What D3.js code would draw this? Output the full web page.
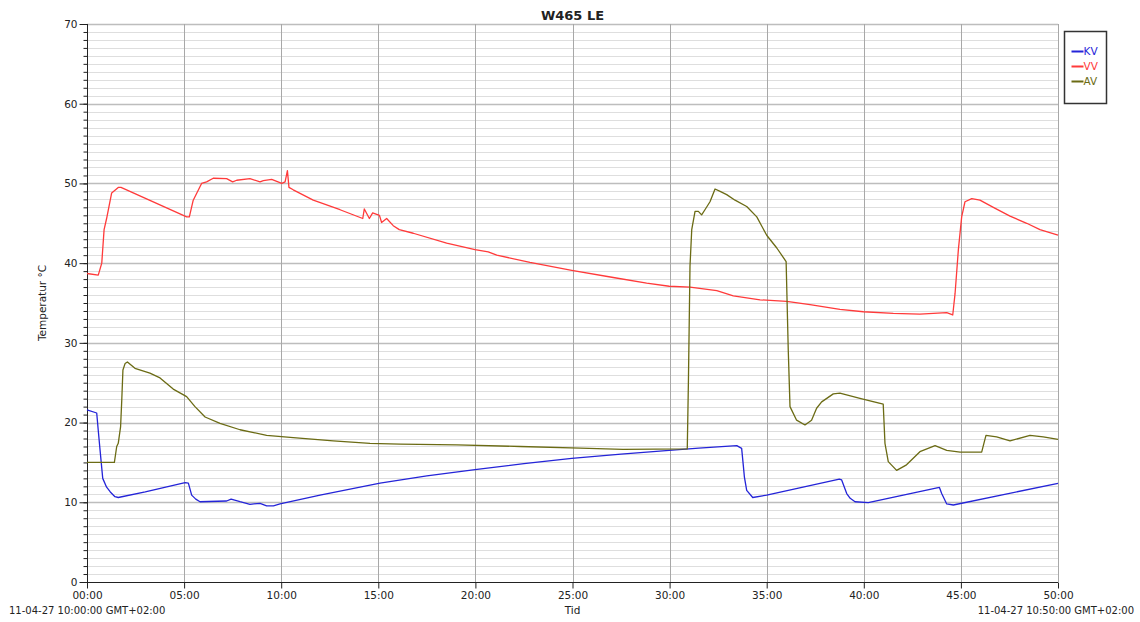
<!DOCTYPE html>
<html>
<head>
<meta charset="utf-8">
<script src="https://cdn.jsdelivr.net/npm/d3@7"></script>
<style>
  body { margin: 0; background: #fff; }
  svg { font-family: "DejaVu Sans", sans-serif; }
</style>
</head>
<body>
<svg id="chart" width="1140" height="622"></svg>
<script>
// time in minutes after 10:00:00, temperature in °C

const kvTime = [0, 0.5, 0.58, 0.67, 0.81, 1.01, 1.2, 1.44, 1.61, 3, 5.05, 5.22, 5.39, 5.6, 5.82, 7.19, 7.42, 7.88, 8.39, 8.91, 9.25, 9.6, 9.94, 12, 15.09, 17.5, 19.98, 22.5, 24.96, 27.5, 29.98, 31.5, 33.46, 33.71, 33.8, 33.85, 33.97, 34.28, 35.0, 38.74, 38.86, 39.12, 39.3, 39.55, 40.23, 43.89, 44.01, 44.27, 44.61, 50];
const kvTemp = [21.6, 21.2, 19, 16.6, 13.0, 11.9, 11.3, 10.7, 10.6, 11.3, 12.46, 12.4, 10.9, 10.4, 10.07, 10.16, 10.4, 10.07, 9.75, 9.87, 9.54, 9.54, 9.79, 10.9, 12.4, 13.3, 14.1, 14.85, 15.5, 16.05, 16.5, 16.8, 17.1, 16.77, 14.5, 13.2, 11.5, 10.6, 10.9, 12.9, 12.8, 11.1, 10.5, 10.07, 9.95, 11.88, 11.1, 9.79, 9.66, 12.38];

const vvTime = [0, 0.58, 0.76, 0.88, 1.01, 1.27, 1.61, 1.75, 5.13, 5.27, 5.47, 5.9, 6.16, 6.5, 7.19, 7.5, 7.71, 8.39, 8.91, 9.08, 9.51, 10.03, 10.2, 10.32, 10.4, 10.62, 11.65, 13.03, 14.2, 14.28, 14.54, 14.71, 15.06, 15.17, 15.43, 15.77, 16.08, 16.8, 18.52, 19.98, 20.66, 21.1, 22.81, 24.96, 27.1, 28.82, 29.98, 31.05, 32.43, 33.28, 34.66, 36.03, 37.23, 38.77, 39.98, 41.52, 42.89, 44.27, 44.58, 44.7, 44.87, 45.04, 45.21, 45.56, 45.98, 46.67, 47.53, 48.39, 49.07, 50];
const vvTemp = [38.7, 38.5, 40.0, 44.2, 45.6, 48.8, 49.5, 49.5, 45.8, 45.8, 47.9, 50.0, 50.2, 50.65, 50.6, 50.2, 50.4, 50.6, 50.2, 50.35, 50.5, 50.0, 50.2, 51.6, 49.5, 49.2, 47.9, 46.7, 45.6, 46.8, 45.6, 46.3, 46.0, 45.1, 45.6, 44.7, 44.2, 43.75, 42.5, 41.7, 41.4, 41.0, 40.1, 39.1, 38.2, 37.5, 37.1, 37.0, 36.55, 35.9, 35.4, 35.2, 34.8, 34.2, 33.9, 33.7, 33.6, 33.8, 33.5, 36.2, 41.7, 45.8, 47.7, 48.1, 47.9, 47.0, 45.9, 45.0, 44.2, 43.5];

const avTime = [0, 1.41, 1.53, 1.61, 1.73, 1.79, 1.85, 1.96, 2.08, 2.47, 3.24, 3.76, 4.44, 5.13, 5.56, 6.08, 6.85, 7.88, 9.25, 10.62, 12.68, 14.57, 16.12, 19.04, 22.3, 25.4, 27.6, 30.91, 30.97, 31.05, 31.14, 31.31, 31.48, 31.65, 31.82, 32.08, 32.34, 32.6, 32.94, 33.37, 33.97, 34.49, 35.0, 35.52, 36.0, 36.11, 36.2, 36.54, 36.97, 37.31, 37.57, 37.83, 38.43, 38.77, 39.8, 41.0, 41.09, 41.26, 41.69, 42.2, 42.89, 43.67, 44.27, 44.96, 46.07, 46.29, 46.84, 47.53, 48.56, 49.24, 50];
const avTemp = [15.0, 15.0, 17.0, 17.4, 19.5, 22.8, 26.6, 27.4, 27.6, 26.8, 26.2, 25.6, 24.2, 23.25, 22.0, 20.7, 19.9, 19.1, 18.4, 18.1, 17.7, 17.4, 17.3, 17.2, 17.0, 16.8, 16.65, 16.7, 25.3, 39.6, 44.2, 46.5, 46.5, 46.05, 46.7, 47.7, 49.3, 49.0, 48.6, 47.9, 47.1, 45.8, 43.5, 41.9, 40.2, 29.1, 22.0, 20.3, 19.7, 20.3, 21.8, 22.6, 23.6, 23.7, 23.05, 22.3, 17.4, 15.1, 14.0, 14.7, 16.35, 17.1, 16.5, 16.3, 16.3, 18.4, 18.2, 17.7, 18.4, 18.2, 17.9];

const seriesNames = ['KV', 'VV', 'AV'];
const seriesColors = ['#2424d8', '#ff3a3a', '#6b6b14'];
const xTicks = [0, 5, 10, 15, 20, 25, 30, 35, 40, 45, 50];
const yTicks = [0, 10, 20, 30, 40, 50, 60, 70];

const title = 'W465 LE';
const yLabel = 'Temperatur °C';
const xLabel = 'Tid';
const startLabel = '11-04-27 10:00:00 GMT+02:00';
const endLabel = '11-04-27 10:50:00 GMT+02:00';

const svg = d3.select('#chart');
const plot = { left: 87, right: 1058, top: 24, bottom: 582 };

const x = d3.scaleLinear().domain([0, 50]).range([plot.left, plot.right]);
const y = d3.scaleLinear().domain([0, 70]).range([plot.bottom, plot.top]);

// grid

const grid = svg.append('g').attr('class', 'grid');

grid.selectAll('.minor')
  .data(d3.range(0, 71).filter(d => d % 10 !== 0))
  .join('line')
    .attr('x1', plot.left).attr('x2', plot.right)
    .attr('y1', d => Math.round(y(d)) + 0.5)
    .attr('y2', d => Math.round(y(d)) + 0.5)
    .attr('stroke', '#dedede');

grid.selectAll('.major')
  .data(yTicks.filter(d => d > 0))
  .join('line')
    .attr('x1', plot.left).attr('x2', plot.right)
    .attr('y1', d => Math.round(y(d)) + 0.5)
    .attr('y2', d => Math.round(y(d)) + 0.5)
    .attr('stroke', '#bdbdbd')
    .attr('stroke-width', 1.5);

grid.selectAll('.vert')
  .data(xTicks.filter(d => d > 0))
  .join('line')
    .attr('x1', d => Math.round(x(d)) + 0.5)
    .attr('x2', d => Math.round(x(d)) + 0.5)
    .attr('y1', plot.top).attr('y2', plot.bottom)
    .attr('stroke', '#a8a8a8');

// axes

const fmtMin = d => d3.format('02d')(d) + ':00';

svg.append('g')
    .attr('transform', `translate(${plot.left + 0.5},0)`)
    .call(d3.axisLeft(y).tickValues(d3.range(0, 71)).tickSize(4).tickFormat(''))
    .call(g => g.selectAll('.domain').remove())
    .call(g => g.selectAll('line').attr('stroke', '#222'));

svg.append('g')
    .attr('transform', `translate(${plot.left + 0.5},0)`)
    .call(d3.axisLeft(y).tickValues(yTicks).tickSize(8).tickPadding(2))
    .call(g => g.select('.domain').attr('stroke', '#222').attr('d', `M0,${plot.top}V${plot.bottom}`))
    .call(g => g.selectAll('line').attr('stroke', '#222'))
    .call(g => g.selectAll('text').attr('font-size', 10.5).attr('fill', '#222')
      .attr('font-family', '"DejaVu Sans", sans-serif'));

svg.append('g')
    .attr('transform', `translate(0,${plot.bottom + 0.5})`)
    .call(d3.axisBottom(x).tickValues(xTicks).tickSize(6).tickPadding(3).tickFormat(fmtMin))
    .call(g => g.select('.domain').attr('stroke', '#222').attr('d', `M${plot.left},0H${plot.right}`))
    .call(g => g.selectAll('line').attr('stroke', '#222'))
    .call(g => g.selectAll('text').attr('font-size', 10.5).attr('fill', '#222')
      .attr('font-family', '"DejaVu Sans", sans-serif'));

// lines

const series = [
  { time: kvTime, temp: kvTemp },
  { time: vvTime, temp: vvTemp },
  { time: avTime, temp: avTemp }
];

const line = d3.line()
    .x(d => x(d[0]))
    .y(d => y(d[1]));

svg.append('g')
  .selectAll('path')
  .data(series)
  .join('path')
    .attr('d', s => line(s.time.map((t, i) => [t, s.temp[i]])))
    .attr('fill', 'none')
    .attr('stroke', (s, i) => seriesColors[i])
    .attr('stroke-width', 1.3)
    .attr('stroke-linejoin', 'round');

// texts

svg.append('text')
    .attr('x', (plot.left + plot.right) / 2)
    .attr('y', 20)
    .attr('text-anchor', 'middle')
    .attr('font-size', 13)
    .attr('font-weight', 'bold')
    .attr('fill', '#222')
    .text(title);

svg.append('text')
    .attr('transform', `translate(46,${(plot.top + plot.bottom) / 2}) rotate(-90)`)
    .attr('text-anchor', 'middle')
    .attr('font-size', 10.5)
    .attr('fill', '#222')
    .text(yLabel);

svg.append('text')
    .attr('x', (plot.left + plot.right) / 2)
    .attr('y', 614)
    .attr('text-anchor', 'middle')
    .attr('font-size', 10.5)
    .attr('fill', '#222')
    .text(xLabel);

svg.append('text')
    .attr('x', 9)
    .attr('y', 614)
    .attr('font-size', 10)
    .attr('fill', '#222')
    .text(startLabel);

svg.append('text')
    .attr('x', 1134)
    .attr('y', 614)
    .attr('text-anchor', 'end')
    .attr('font-size', 10)
    .attr('fill', '#222')
    .text(endLabel);

// legend

const legend = svg.append('g').attr('transform', 'translate(1064.5,31.5)');

legend.append('rect')
    .attr('width', 42)
    .attr('height', 72)
    .attr('fill', '#fff')
    .attr('stroke', '#333')
    .attr('stroke-width', 1.5);

const item = legend.selectAll('.item')
  .data(seriesNames)
  .join('g')
    .attr('transform', (d, i) => `translate(0,${20 + i * 15})`);

item.append('line')
    .attr('x1', 7).attr('x2', 19)
    .attr('stroke', (d, i) => seriesColors[i])
    .attr('stroke-width', 2);

item.append('text')
    .attr('x', 19)
    .attr('dy', '0.35em')
    .attr('font-size', 10.5)
    .attr('fill', (d, i) => seriesColors[i])
    .text(d => d);
</script>
</body>
</html>
